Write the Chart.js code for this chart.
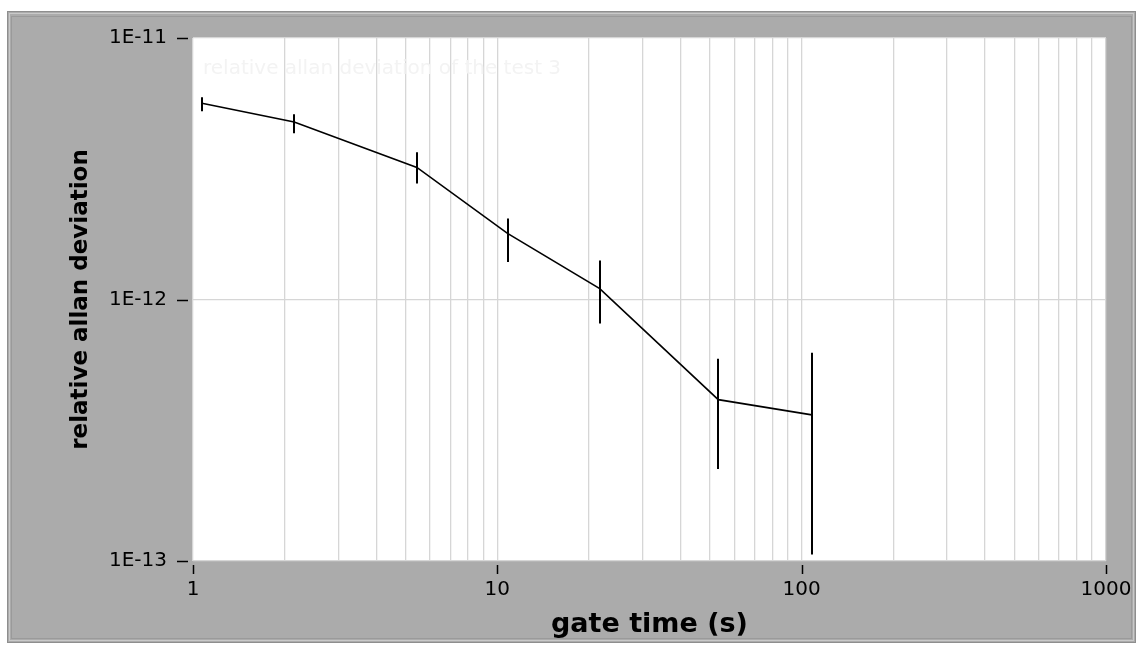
<!DOCTYPE html>
<html>
<head>
<meta charset="utf-8">
<script src="https://cdn.jsdelivr.net/npm/chart.js@4.4.0/dist/chart.umd.min.js"></script>
<style>
  html, body { margin: 0; padding: 0; background: #ffffff; }
  #wrap { width: 1140px; height: 650px; position: relative; }
</style>
</head>
<body>
<div id="wrap"><canvas id="c" width="1140" height="650"></canvas></div>
<script>
// ---- data ----
const gateTime  = [1.07, 2.15, 5.44, 10.8, 21.7, 53.2, 108];
const allanDev  = [5.63e-12, 4.77e-12, 3.20e-12, 1.79e-12, 1.10e-12, 4.14e-13, 3.62e-13];
const errUpper  = [5.94e-12, 5.11e-12, 3.66e-12, 2.04e-12, 1.41e-12, 5.94e-13, 6.26e-13];
const errLower  = [5.25e-12, 4.32e-12, 2.78e-12, 1.39e-12, 8.09e-13, 2.25e-13, 1.06e-13];

const yTickValues = [1e-13, 1e-12, 1e-11];
const yTickLabels = ['1E-13', '1E-12', '1E-11'];
const xMajorValues = [1, 10, 100, 1000];
const xMajorLabels = ['1', '10', '100', '1000'];
const xMinorMultipliers = [2, 3, 4, 5, 6, 7, 8, 9];

const xTitle = 'gate time (s)';
const yTitle = 'relative allan deviation';
const ghostTitle = 'relative allan deviation of the test 3';

// grid values for the x axis (majors + minors)
const xGridValues = [];
xMajorValues.forEach((m, i) => {
  xGridValues.push(m);
  if (i < xMajorValues.length - 1) xMinorMultipliers.forEach(k => xGridValues.push(m * k));
});

const FONT = '"DejaVu Sans", Verdana, sans-serif';

const framePlugin = {
  id: 'frame',
  beforeDraw(chart) {
    const ctx = chart.ctx;
    const a = chart.chartArea;
    ctx.save();
    ctx.fillStyle = '#ffffff';
    ctx.fillRect(0, 0, chart.width, chart.height);
    // outer panel
    ctx.fillStyle = '#ababab';
    ctx.fillRect(8, 12, 1127, 630);
    ctx.strokeStyle = '#8e8e8e';
    ctx.lineWidth = 1;
    ctx.strokeRect(7.5, 11.5, 1128, 631);
    ctx.strokeStyle = '#c9c9c9';
    ctx.strokeRect(9.5, 13.5, 1124, 627);
    ctx.strokeStyle = '#9a9a9a';
    ctx.strokeRect(11.5, 16.5, 1120, 622);
    // plot background
    ctx.fillStyle = '#ffffff';
    ctx.fillRect(a.left, a.top, a.right - a.left, a.bottom - a.top);
    ctx.restore();
  },
  afterDatasetsDraw(chart) {
    const ctx = chart.ctx;
    const xs = chart.scales.x, ys = chart.scales.y;
    ctx.save();
    // error bars
    ctx.strokeStyle = '#000000';
    ctx.lineWidth = 2;
    gateTime.forEach((t, i) => {
      const px = Math.round(xs.getPixelForValue(t));
      const y1 = ys.getPixelForValue(errUpper[i]);
      const y2 = ys.getPixelForValue(errLower[i]);
      ctx.beginPath();
      ctx.moveTo(px, y1);
      ctx.lineTo(px, y2);
      ctx.stroke();
    });
    ctx.restore();
  },
  afterDraw(chart) {
    const ctx = chart.ctx;
    const xs = chart.scales.x, ys = chart.scales.y;
    const a = chart.chartArea;
    ctx.save();
    ctx.strokeStyle = '#000000';
    ctx.lineWidth = 1.5;
    // y tick dashes
    yTickValues.forEach(v => {
      const py = Math.round(ys.getPixelForValue(v)) + 0.5;
      ctx.beginPath();
      ctx.moveTo(a.left - 16, py);
      ctx.lineTo(a.left - 5, py);
      ctx.stroke();
    });
    // x tick marks (majors only)
    xMajorValues.forEach(v => {
      const px = Math.round(xs.getPixelForValue(v)) + 0.5;
      ctx.beginPath();
      ctx.moveTo(px, a.bottom + 4);
      ctx.lineTo(px, a.bottom + 13);
      ctx.stroke();
    });
    // ghost title (nearly invisible in reference)
    ctx.fillStyle = '#f3f3f3';
    ctx.font = '20px ' + FONT;
    ctx.textBaseline = 'middle';
    ctx.textAlign = 'left';
    ctx.fillText(ghostTitle, a.left + 10, a.top + 31);
    ctx.restore();
  }
};

new Chart(document.getElementById('c'), {
  type: 'scatter',
  data: {
    datasets: [{
      label: 'allan deviation',
      data: gateTime.map((t, i) => ({ x: t, y: allanDev[i] })),
      showLine: true,
      borderColor: '#000000',
      borderWidth: 1.6,
      pointRadius: 0,
      tension: 0,
      fill: false
    }]
  },
  options: {
    responsive: false,
    animation: false,
    devicePixelRatio: 1,
    layout: { padding: { left: 12, top: 38, right: 34, bottom: 9 } },
    plugins: {
      legend: { display: false },
      tooltip: { enabled: false },
      title: { display: false }
    },
    scales: {
      x: {
        type: 'logarithmic',
        min: 1, max: 1000,
        afterFit(s) { s.height = 80; s.paddingLeft = 0; s.paddingRight = 0; },
        afterBuildTicks(s) { s.ticks = xGridValues.map(v => ({ value: v })); },
        ticks: {
          autoSkip: false,
          maxRotation: 0,
          padding: 17,
          color: '#000000',
          font: { family: FONT, size: 20 },
          callback(v) {
            const idx = xMajorValues.indexOf(v);
            return idx >= 0 ? xMajorLabels[idx] : '';
          }
        },
        grid: { color: '#d6d6d6', lineWidth: 1.3, drawTicks: false },
        border: { display: false },
        title: {
          display: true, text: xTitle, color: '#000000',
          font: { family: FONT, size: 27, weight: 'bold' },
          padding: { top: 0, bottom: 0 }
        }
      },
      y: {
        type: 'logarithmic',
        min: 1e-13, max: 1e-11,
        afterFit(s) { s.width = 181; s.paddingTop = 0; s.paddingBottom = 0; },
        afterBuildTicks(s) { s.ticks = yTickValues.map(v => ({ value: v })); },
        ticks: {
          autoSkip: false,
          padding: 26,
          color: '#000000',
          font: { family: FONT, size: 20 },
          callback(v) {
            const idx = yTickValues.findIndex(t => Math.abs(t - v) / t < 1e-6);
            return idx >= 0 ? yTickLabels[idx] : '';
          }
        },
        grid: { color: '#d6d6d6', lineWidth: 1.3, drawTicks: false },
        border: { display: false },
        title: {
          display: true, text: yTitle, color: '#000000',
          font: { family: FONT, size: 23, weight: 'bold' },
          padding: { top: 55, bottom: 0 }
        }
      }
    }
  },
  plugins: [framePlugin]
});
</script>
</body>
</html>
